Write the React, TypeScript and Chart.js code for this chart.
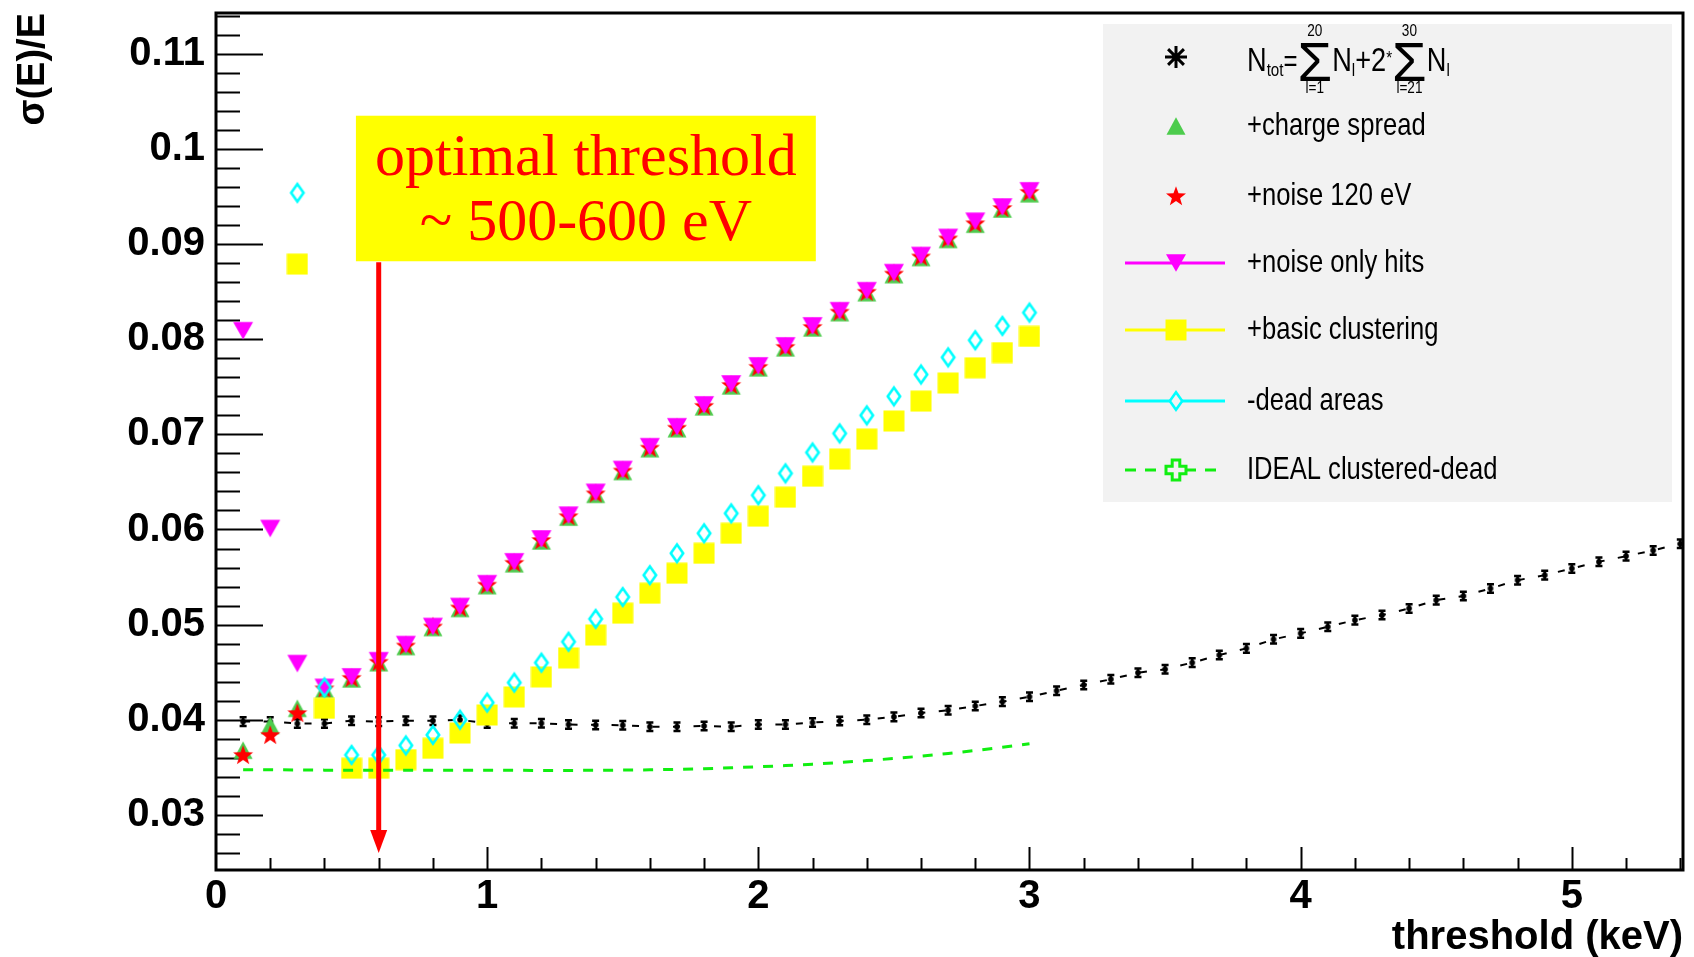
import React, { useEffect, useRef } from 'react';
import { Chart, registerables } from 'chart.js';

Chart.register(...registerables);

// ---------------- data ----------------
const THRESHOLD_KEV = [
  0.1, 0.2, 0.3, 0.4, 0.5, 0.6, 0.7, 0.8, 0.9, 1.0,
  1.1, 1.2, 1.3, 1.4, 1.5, 1.6, 1.7, 1.8, 1.9, 2.0,
  2.1, 2.2, 2.3, 2.4, 2.5, 2.6, 2.7, 2.8, 2.9, 3.0,
  3.1, 3.2, 3.3, 3.4, 3.5, 3.6, 3.7, 3.8, 3.9, 4.0,
  4.1, 4.2, 4.3, 4.4, 4.5, 4.6, 4.7, 4.8, 4.9, 5.0,
  5.1, 5.2, 5.3, 5.4,
];

// N_tot = sum_{l=1}^{20} N_l + 2*sum_{l=21}^{30} N_l  (black, with error bars)
const NTOT_SIGMA = [
  0.0398, 0.0398, 0.0396, 0.0396, 0.0399, 0.0398, 0.0399, 0.0399, 0.0400, 0.0396,
  0.03963, 0.03963, 0.0395, 0.03945, 0.03942, 0.03927, 0.03927, 0.03934, 0.03927, 0.0395,
  0.0395, 0.0397, 0.03987, 0.0400, 0.0403, 0.0407, 0.0410, 0.04144, 0.0419, 0.04242,
  0.04305, 0.04365, 0.04425, 0.04494, 0.0453, 0.0460, 0.0468, 0.0475, 0.04845, 0.04908,
  0.04977, 0.05047, 0.0510, 0.0517, 0.05257, 0.0530, 0.0538, 0.05467, 0.0552, 0.0559,
  0.0566, 0.0572, 0.0578, 0.0585,
];
const NTOT_ERROR = 0.00045;

const CHARGE_SPREAD = [
  0.0368, 0.0394, 0.0412, 0.0432, 0.0443, 0.0460, 0.0477, 0.0497, 0.0517, 0.0541,
  0.0564, 0.0588, 0.0613, 0.0637, 0.0661, 0.0685, 0.0706, 0.0729, 0.0751, 0.0770,
  0.0791, 0.0812, 0.0828, 0.0849, 0.0868, 0.0886, 0.0905, 0.0921, 0.0937, 0.0953,
];

const NOISE_120EV = [
  0.0363, 0.0384, 0.0407, 0.0433, 0.0444, 0.0461, 0.0478, 0.0498, 0.0518, 0.0542,
  0.0565, 0.0589, 0.0614, 0.0638, 0.0662, 0.0686, 0.0707, 0.0730, 0.0752, 0.0771,
  0.0792, 0.0813, 0.0829, 0.0850, 0.0869, 0.0887, 0.0906, 0.0922, 0.0938, 0.0955,
];

const NOISE_ONLY_HITS = [
  0.0809, 0.0601, 0.0459, 0.0434, 0.0445, 0.0462, 0.0479, 0.0498, 0.0519, 0.0543,
  0.0566, 0.0590, 0.0615, 0.0639, 0.0663, 0.0687, 0.0708, 0.0731, 0.0753, 0.0772,
  0.0793, 0.0814, 0.0830, 0.0851, 0.0870, 0.0888, 0.0907, 0.0924, 0.0939, 0.0956,
];

const BASIC_CLUSTERING = [
  null, null, 0.0879, 0.0412, 0.0349, 0.0349, 0.0358, 0.0370, 0.0386, 0.0405,
  0.0424, 0.0445, 0.0465, 0.0489, 0.0512, 0.0533, 0.0554, 0.0575, 0.0596, 0.0614,
  0.0634, 0.0656, 0.0674, 0.0695, 0.0714, 0.0735, 0.0754, 0.0770, 0.0786, 0.0803,
];

const DEAD_AREAS = [
  null, null, 0.0954, 0.0434, 0.0363, 0.0363, 0.0373, 0.0384, 0.0400, 0.0418,
  0.0439, 0.0460, 0.0482, 0.0506, 0.0529, 0.0552, 0.0575, 0.0596, 0.0617, 0.0636,
  0.0659, 0.0681, 0.0701, 0.0720, 0.0740, 0.0763, 0.0781, 0.0799, 0.0814, 0.0828,
];

const IDEAL_CLUSTERED_DEAD = [
  0.03475, 0.03475, 0.03472, 0.0347, 0.0347, 0.0347, 0.0347, 0.0347, 0.0347, 0.0347,
  0.03468, 0.03467, 0.03467, 0.03468, 0.0347, 0.03473, 0.03478, 0.03485, 0.03495, 0.03505,
  0.03518, 0.03533, 0.0355, 0.0357, 0.03592, 0.03617, 0.03645, 0.03676, 0.0371, 0.03748,
];

const X_MIN = 0;
const X_MAX = 5.41;
const Y_MIN = 0.0242;
const Y_MAX = 0.1143;

// annotation (in data units)
const NOTE_LINES = ['optimal threshold', '~ 500-600 eV'];
const NOTE_BOX = { x0: 0.516, x1: 2.212, yTop: 0.1035, yBottom: 0.0882 };
const ARROW = { x: 0.6, yFrom: 0.0881, yTo: 0.0260 };

const LEGEND_LABELS = [
  'formula',
  '+charge spread',
  '+noise 120 eV',
  '+noise only hits',
  '+basic clustering',
  '-dead areas',
  'IDEAL clustered-dead',
];

// ---------------- marker images ----------------
const C_GREEN_TRI = '#4dcc4d';
const C_RED = '#ff0000';
const C_MAGENTA = '#ff00ff';
const C_YELLOW = '#ffff00';
const C_CYAN = '#00ffff';
const C_LIME = '#11ee11';

function makeImg(w: number, h: number, draw: (g: CanvasRenderingContext2D, cx: number, cy: number) => void) {
  const c = document.createElement('canvas');
  c.width = w;
  c.height = h;
  const g = c.getContext('2d')!;
  draw(g, w / 2, h / 2);
  return c;
}

function triPath(g: CanvasRenderingContext2D, cx: number, cy: number, hw: number, h: number, down: boolean) {
  g.beginPath();
  if (down) {
    g.moveTo(cx - hw, cy - h / 2);
    g.lineTo(cx + hw, cy - h / 2);
    g.lineTo(cx, cy + h / 2);
  } else {
    g.moveTo(cx - hw, cy + h / 2);
    g.lineTo(cx + hw, cy + h / 2);
    g.lineTo(cx, cy - h / 2);
  }
  g.closePath();
}

function starPath(g: CanvasRenderingContext2D, cx: number, cy: number, R: number, r: number) {
  g.beginPath();
  for (let i = 0; i < 10; i++) {
    const a = -Math.PI / 2 + (i * Math.PI) / 5;
    const rad = i % 2 === 0 ? R : r;
    const px = cx + rad * Math.cos(a);
    const py = cy + rad * Math.sin(a);
    if (i === 0) g.moveTo(px, py);
    else g.lineTo(px, py);
  }
  g.closePath();
}

function diamondPath(g: CanvasRenderingContext2D, cx: number, cy: number, hw: number, hh: number) {
  g.beginPath();
  g.moveTo(cx, cy - hh);
  g.lineTo(cx + hw, cy);
  g.lineTo(cx, cy + hh);
  g.lineTo(cx - hw, cy);
  g.closePath();
}

function asteriskPath(g: CanvasRenderingContext2D, cx: number, cy: number, s: number) {
  g.beginPath();
  g.moveTo(cx, cy - s);
  g.lineTo(cx, cy + s);
  g.moveTo(cx - s, cy);
  g.lineTo(cx + s, cy);
  const d = s * 0.72;
  g.moveTo(cx - d, cy - d);
  g.lineTo(cx + d, cy + d);
  g.moveTo(cx - d, cy + d);
  g.lineTo(cx + d, cy - d);
}

function crossPath(g: CanvasRenderingContext2D, cx: number, cy: number, L: number, w: number) {
  g.beginPath();
  g.moveTo(cx - w, cy - L);
  g.lineTo(cx + w, cy - L);
  g.lineTo(cx + w, cy - w);
  g.lineTo(cx + L, cy - w);
  g.lineTo(cx + L, cy + w);
  g.lineTo(cx + w, cy + w);
  g.lineTo(cx + w, cy + L);
  g.lineTo(cx - w, cy + L);
  g.lineTo(cx - w, cy + w);
  g.lineTo(cx - L, cy + w);
  g.lineTo(cx - L, cy - w);
  g.lineTo(cx - w, cy - w);
  g.closePath();
}

function buildMarkers() {
  return {
    triUp: makeImg(24, 22, (g, cx, cy) => {
      triPath(g, cx, cy, 9.5, 17.5, false);
      g.fillStyle = C_GREEN_TRI;
      g.fill();
    }),
    star: makeImg(24, 24, (g, cx, cy) => {
      starPath(g, cx, cy + 0.8, 10.5, 4.3);
      g.fillStyle = C_RED;
      g.fill();
    }),
    triDown: makeImg(24, 22, (g, cx, cy) => {
      triPath(g, cx, cy, 10, 17.5, true);
      g.fillStyle = C_MAGENTA;
      g.fill();
    }),
    square: makeImg(22, 22, (g, cx, cy) => {
      g.fillStyle = C_YELLOW;
      g.fillRect(cx - 10.5, cy - 10.5, 21, 21);
    }),
    diamond: makeImg(18, 24, (g, cx, cy) => {
      diamondPath(g, cx, cy, 6.2, 8.8);
      g.strokeStyle = C_CYAN;
      g.lineWidth = 2.6;
      g.stroke();
    }),
    asteriskSmall: makeImg(10, 10, (g, cx, cy) => {
      asteriskPath(g, cx, cy, 3);
      g.strokeStyle = '#000';
      g.lineWidth = 1.6;
      g.stroke();
    }),
    asteriskBig: makeImg(28, 28, (g, cx, cy) => {
      asteriskPath(g, cx, cy, 11);
      g.strokeStyle = '#000';
      g.lineWidth = 3;
      g.stroke();
    }),
    openCross: makeImg(28, 28, (g, cx, cy) => {
      crossPath(g, cx, cy, 10, 3.8);
      g.strokeStyle = C_LIME;
      g.lineWidth = 3;
      g.stroke();
    }),
  };
}

// ---------------- text helpers ----------------
const SANS = "'Liberation Sans', Arial, Helvetica, sans-serif";
const NARROW = 0.8;

function nt(ctx: CanvasRenderingContext2D, text: string, x: number, y: number, size: number, align: 'left' | 'center' = 'left', baseline: CanvasTextBaseline = 'alphabetic', sx: number = NARROW) {
  ctx.save();
  ctx.font = `${size}px ${SANS}`;
  ctx.fillStyle = '#000';
  ctx.textBaseline = baseline;
  const w = ctx.measureText(text).width * sx;
  ctx.translate(align === 'center' ? x - w / 2 : x, y);
  ctx.scale(sx, 1);
  ctx.textAlign = 'left';
  ctx.fillText(text, 0, 0);
  ctx.restore();
  return w;
}

function drawSum(ctx: CanvasRenderingContext2D, x: number, yb: number, top: string, bottom: string) {
  const w = nt(ctx, 'Σ', x, yb + 10, 56, 'left', 'alphabetic', 1.0);
  const cx = x + w / 2;
  nt(ctx, top, cx, yb - 35, 17, 'center');
  nt(ctx, bottom, cx, yb + 22, 17, 'center');
  return x + w;
}

function drawFormula(ctx: CanvasRenderingContext2D, x0: number, yb: number) {
  let x = x0;
  x += nt(ctx, 'N', x, yb, 34);
  x += nt(ctx, 'tot', x, yb + 5, 19);
  x += nt(ctx, '=', x, yb, 30);
  x = drawSum(ctx, x, yb, '20', 'l=1');
  x += nt(ctx, 'N', x, yb, 34);
  x += nt(ctx, 'l', x, yb + 5, 19);
  x += nt(ctx, '+2', x, yb, 34);
  x += nt(ctx, '*', x, yb - 7, 19);
  x = drawSum(ctx, x, yb, '30', 'l=21');
  x += nt(ctx, 'N', x, yb, 34);
  nt(ctx, 'l', x, yb + 5, 19);
}

const pts = (ys: (number | null)[]) =>
  ys.map((y, i) => ({ x: THRESHOLD_KEV[i], y })).filter((p) => p.y !== null) as { x: number; y: number }[];

export default function App() {
  const ref = useRef<HTMLCanvasElement | null>(null);

  useEffect(() => {
    document.body.style.margin = '0';
    document.body.style.overflow = 'hidden';
    const canvas = ref.current!;
    const M = buildMarkers();

    const rootPlugin = {
      id: 'rootStyle',
      beforeDatasetsDraw(chart: any) {
        const { ctx, chartArea: a, scales } = chart;
        const xs = scales.x;
        const ys = scales.y;
        ctx.save();
        ctx.strokeStyle = '#000';
        ctx.lineWidth = 2;
        for (let k = 1; k <= 27; k++) {
          const v = k * 0.2;
          if (v > xs.max + 1e-9) break;
          const px = Math.round(xs.getPixelForValue(v)) + 0.5;
          const major = k % 5 === 0;
          ctx.beginPath();
          ctx.moveTo(px, a.bottom);
          ctx.lineTo(px, a.bottom - (major ? 23 : 12));
          ctx.stroke();
        }
        for (let k = 10; k <= 60; k++) {
          const v = k * 0.002;
          if (v < ys.min || v > ys.max) continue;
          const py = Math.round(ys.getPixelForValue(v)) + 0.5;
          const major = k % 5 === 0;
          ctx.beginPath();
          ctx.moveTo(a.left, py);
          ctx.lineTo(a.left + (major ? 47 : 24), py);
          ctx.stroke();
        }
        ctx.restore();
      },
      afterDatasetDraw(chart: any, args: any) {
        if (args.index !== 0) return;
        const { ctx } = chart;
        const ys = chart.scales.y;
        ctx.save();
        ctx.strokeStyle = '#000';
        ctx.lineWidth = 2.5;
        const data = chart.data.datasets[0].data;
        args.meta.data.forEach((el: any, i: number) => {
          const v = data[i].y;
          const y1 = ys.getPixelForValue(v + NTOT_ERROR);
          const y2 = ys.getPixelForValue(v - NTOT_ERROR);
          ctx.beginPath();
          ctx.moveTo(el.x, y1);
          ctx.lineTo(el.x, y2);
          ctx.moveTo(el.x - 3.5, y1);
          ctx.lineTo(el.x + 3.5, y1);
          ctx.moveTo(el.x - 3.5, y2);
          ctx.lineTo(el.x + 3.5, y2);
          ctx.stroke();
        });
        ctx.restore();
      },
      afterDatasetsDraw(chart: any) {
        const { ctx, chartArea: a } = chart;
        ctx.save();
        ctx.strokeStyle = '#000';
        ctx.lineWidth = 3;
        ctx.strokeRect(a.left, a.top, a.right - a.left, a.bottom - a.top);
        ctx.restore();
      },
      afterDraw(chart: any) {
        const { ctx } = chart;
        const xs = chart.scales.x;
        const ys = chart.scales.y;
        // annotation box
        const bx0 = xs.getPixelForValue(NOTE_BOX.x0);
        const bx1 = xs.getPixelForValue(NOTE_BOX.x1);
        const by0 = ys.getPixelForValue(NOTE_BOX.yTop);
        const by1 = ys.getPixelForValue(NOTE_BOX.yBottom);
        ctx.save();
        ctx.fillStyle = C_YELLOW;
        ctx.fillRect(bx0, by0, bx1 - bx0, by1 - by0);
        ctx.fillStyle = C_RED;
        ctx.font = "60px 'Liberation Serif', 'Times New Roman', serif";
        ctx.textAlign = 'center';
        ctx.textBaseline = 'alphabetic';
        const cx = (bx0 + bx1) / 2;
        ctx.fillText(NOTE_LINES[0], cx, by0 + 59);
        ctx.fillText(NOTE_LINES[1], cx, by0 + 124);
        // arrow
        const ax = xs.getPixelForValue(ARROW.x);
        const ay0 = ys.getPixelForValue(ARROW.yFrom);
        const ay1 = ys.getPixelForValue(ARROW.yTo);
        ctx.strokeStyle = C_RED;
        ctx.lineWidth = 5;
        ctx.beginPath();
        ctx.moveTo(ax, ay0);
        ctx.lineTo(ax, ay1 - 18);
        ctx.stroke();
        ctx.beginPath();
        ctx.moveTo(ax - 8.5, ay1 - 23);
        ctx.lineTo(ax + 8.5, ay1 - 23);
        ctx.lineTo(ax, ay1);
        ctx.closePath();
        ctx.fill();
        ctx.restore();

        // legend
        const L = 1103, T = 24, R = 1672, B = 502;
        ctx.save();
        ctx.fillStyle = '#f2f2f2';
        ctx.fillRect(L, T, R - L, B - T);
        const mx = 1176, lx0 = 1125, lx1 = 1225, tx = 1247;
        const rows = [57, 126, 196, 263, 330, 401, 470];
        const img = (c: HTMLCanvasElement, x: number, y: number) => ctx.drawImage(c, x - c.width / 2, y - c.height / 2);
        const hline = (y: number, color: string, dash: number[]) => {
          ctx.save();
          ctx.strokeStyle = color;
          ctx.lineWidth = 3;
          ctx.setLineDash(dash);
          ctx.beginPath();
          ctx.moveTo(lx0, y);
          ctx.lineTo(lx1, y);
          ctx.stroke();
          ctx.restore();
        };
        img(M.asteriskBig, mx, rows[0]);
        drawFormula(ctx, tx, rows[0] + 14);
        img(M.triUp, mx, rows[1]);
        img(M.star, mx, rows[2]);
        hline(rows[3], C_MAGENTA, []);
        img(M.triDown, mx, rows[3]);
        hline(rows[4], C_YELLOW, []);
        img(M.square, mx, rows[4]);
        hline(rows[5], C_CYAN, []);
        ctx.fillStyle = '#f2f2f2';
        diamondPath(ctx, mx, rows[5], 6.2, 8.8);
        ctx.fill();
        img(M.diamond, mx, rows[5]);
        hline(rows[6], C_LIME, [11, 9]);
        ctx.fillStyle = '#f2f2f2';
        crossPath(ctx, mx, rows[6], 10, 3.8);
        ctx.fill();
        img(M.openCross, mx, rows[6]);
        for (let i = 1; i < LEGEND_LABELS.length; i++) {
          nt(ctx, LEGEND_LABELS[i], tx, rows[i], 32, 'left', 'middle');
        }
        ctx.restore();
      },
    };

    const chart = new Chart(canvas, {
      type: 'scatter',
      data: {
        datasets: [
          {
            label: 'Ntot',
            data: pts(NTOT_SIGMA),
            showLine: true,
            borderColor: '#000',
            borderWidth: 2,
            borderDash: [7, 13.5],
            pointStyle: M.asteriskSmall as any,
            pointRadius: 4,
            order: 7,
          },
          {
            label: '+charge spread',
            data: pts(CHARGE_SPREAD),
            showLine: false,
            pointStyle: M.triUp as any,
            pointRadius: 10,
            order: 6,
          },
          {
            label: '+noise 120 eV',
            data: pts(NOISE_120EV),
            showLine: false,
            pointStyle: M.star as any,
            pointRadius: 10,
            order: 5,
          },
          {
            label: '+noise only hits',
            data: pts(NOISE_ONLY_HITS),
            showLine: false,
            pointStyle: M.triDown as any,
            pointRadius: 10,
            order: 4,
          },
          {
            label: '+basic clustering',
            data: pts(BASIC_CLUSTERING),
            showLine: false,
            pointStyle: M.square as any,
            pointRadius: 10,
            order: 3,
          },
          {
            label: '-dead areas',
            data: pts(DEAD_AREAS),
            showLine: false,
            pointStyle: M.diamond as any,
            pointRadius: 10,
            order: 2,
          },
          {
            label: 'IDEAL clustered-dead',
            data: pts(IDEAL_CLUSTERED_DEAD),
            showLine: true,
            borderColor: C_LIME,
            borderWidth: 3,
            borderDash: [10, 10],
            pointRadius: 0,
            order: 1,
          },
        ],
      },
      options: {
        animation: false,
        responsive: false,
        devicePixelRatio: 1,
        events: [],
        layout: { padding: { top: 13, right: 3, left: 0, bottom: 0 } },
        plugins: { legend: { display: false }, tooltip: { enabled: false } },
        scales: {
          x: {
            type: 'linear',
            min: X_MIN,
            max: X_MAX,
            grid: { display: false, drawTicks: false },
            border: { display: false },
            ticks: {
              stepSize: 1,
              includeBounds: false,
              autoSkip: false,
              maxRotation: 0,
              padding: 3,
              color: '#000',
              font: { family: SANS, size: 40, weight: 'bold' },
              callback: (v: any) => {
                const r = Math.round(v);
                return Math.abs(v - r) < 1e-7 ? String(r) : '';
              },
            },
            title: {
              display: true,
              text: 'threshold (keV)',
              align: 'end',
              color: '#000',
              padding: { top: 0, bottom: -5 },
              font: { family: SANS, size: 40, weight: 'bold' },
            },
            afterFit: (s: any) => {
              s.height = 87;
              s.paddingLeft = 0;
              s.paddingRight = 0;
            },
          },
          y: {
            type: 'linear',
            min: Y_MIN,
            max: Y_MAX,
            grid: { display: false, drawTicks: false },
            border: { display: false },
            ticks: {
              stepSize: 0.01,
              includeBounds: false,
              autoSkip: false,
              padding: 11,
              color: '#000',
              font: { family: SANS, size: 40, weight: 'bold' },
              callback: (v: any) => {
                const r = Math.round(v * 100) / 100;
                return Math.abs(v - r) < 1e-7 ? String(r) : '';
              },
            },
            title: {
              display: true,
              text: 'σ(E)/E',
              align: 'end',
              color: '#000',
              padding: { top: 11, bottom: 0 },
              font: { family: SANS, size: 38, weight: 'bold' },
            },
            afterFit: (s: any) => {
              s.width = 216;
              s.paddingTop = 0;
              s.paddingBottom = 0;
            },
          },
        },
      },
      plugins: [rootPlugin],
    } as any);

    return () => chart.destroy();
  }, []);

  return (
    <div style={{ width: 1694, height: 957, position: 'relative' }}>
      <canvas ref={ref} width={1694} height={957} style={{ display: 'block' }} />
    </div>
  );
}
